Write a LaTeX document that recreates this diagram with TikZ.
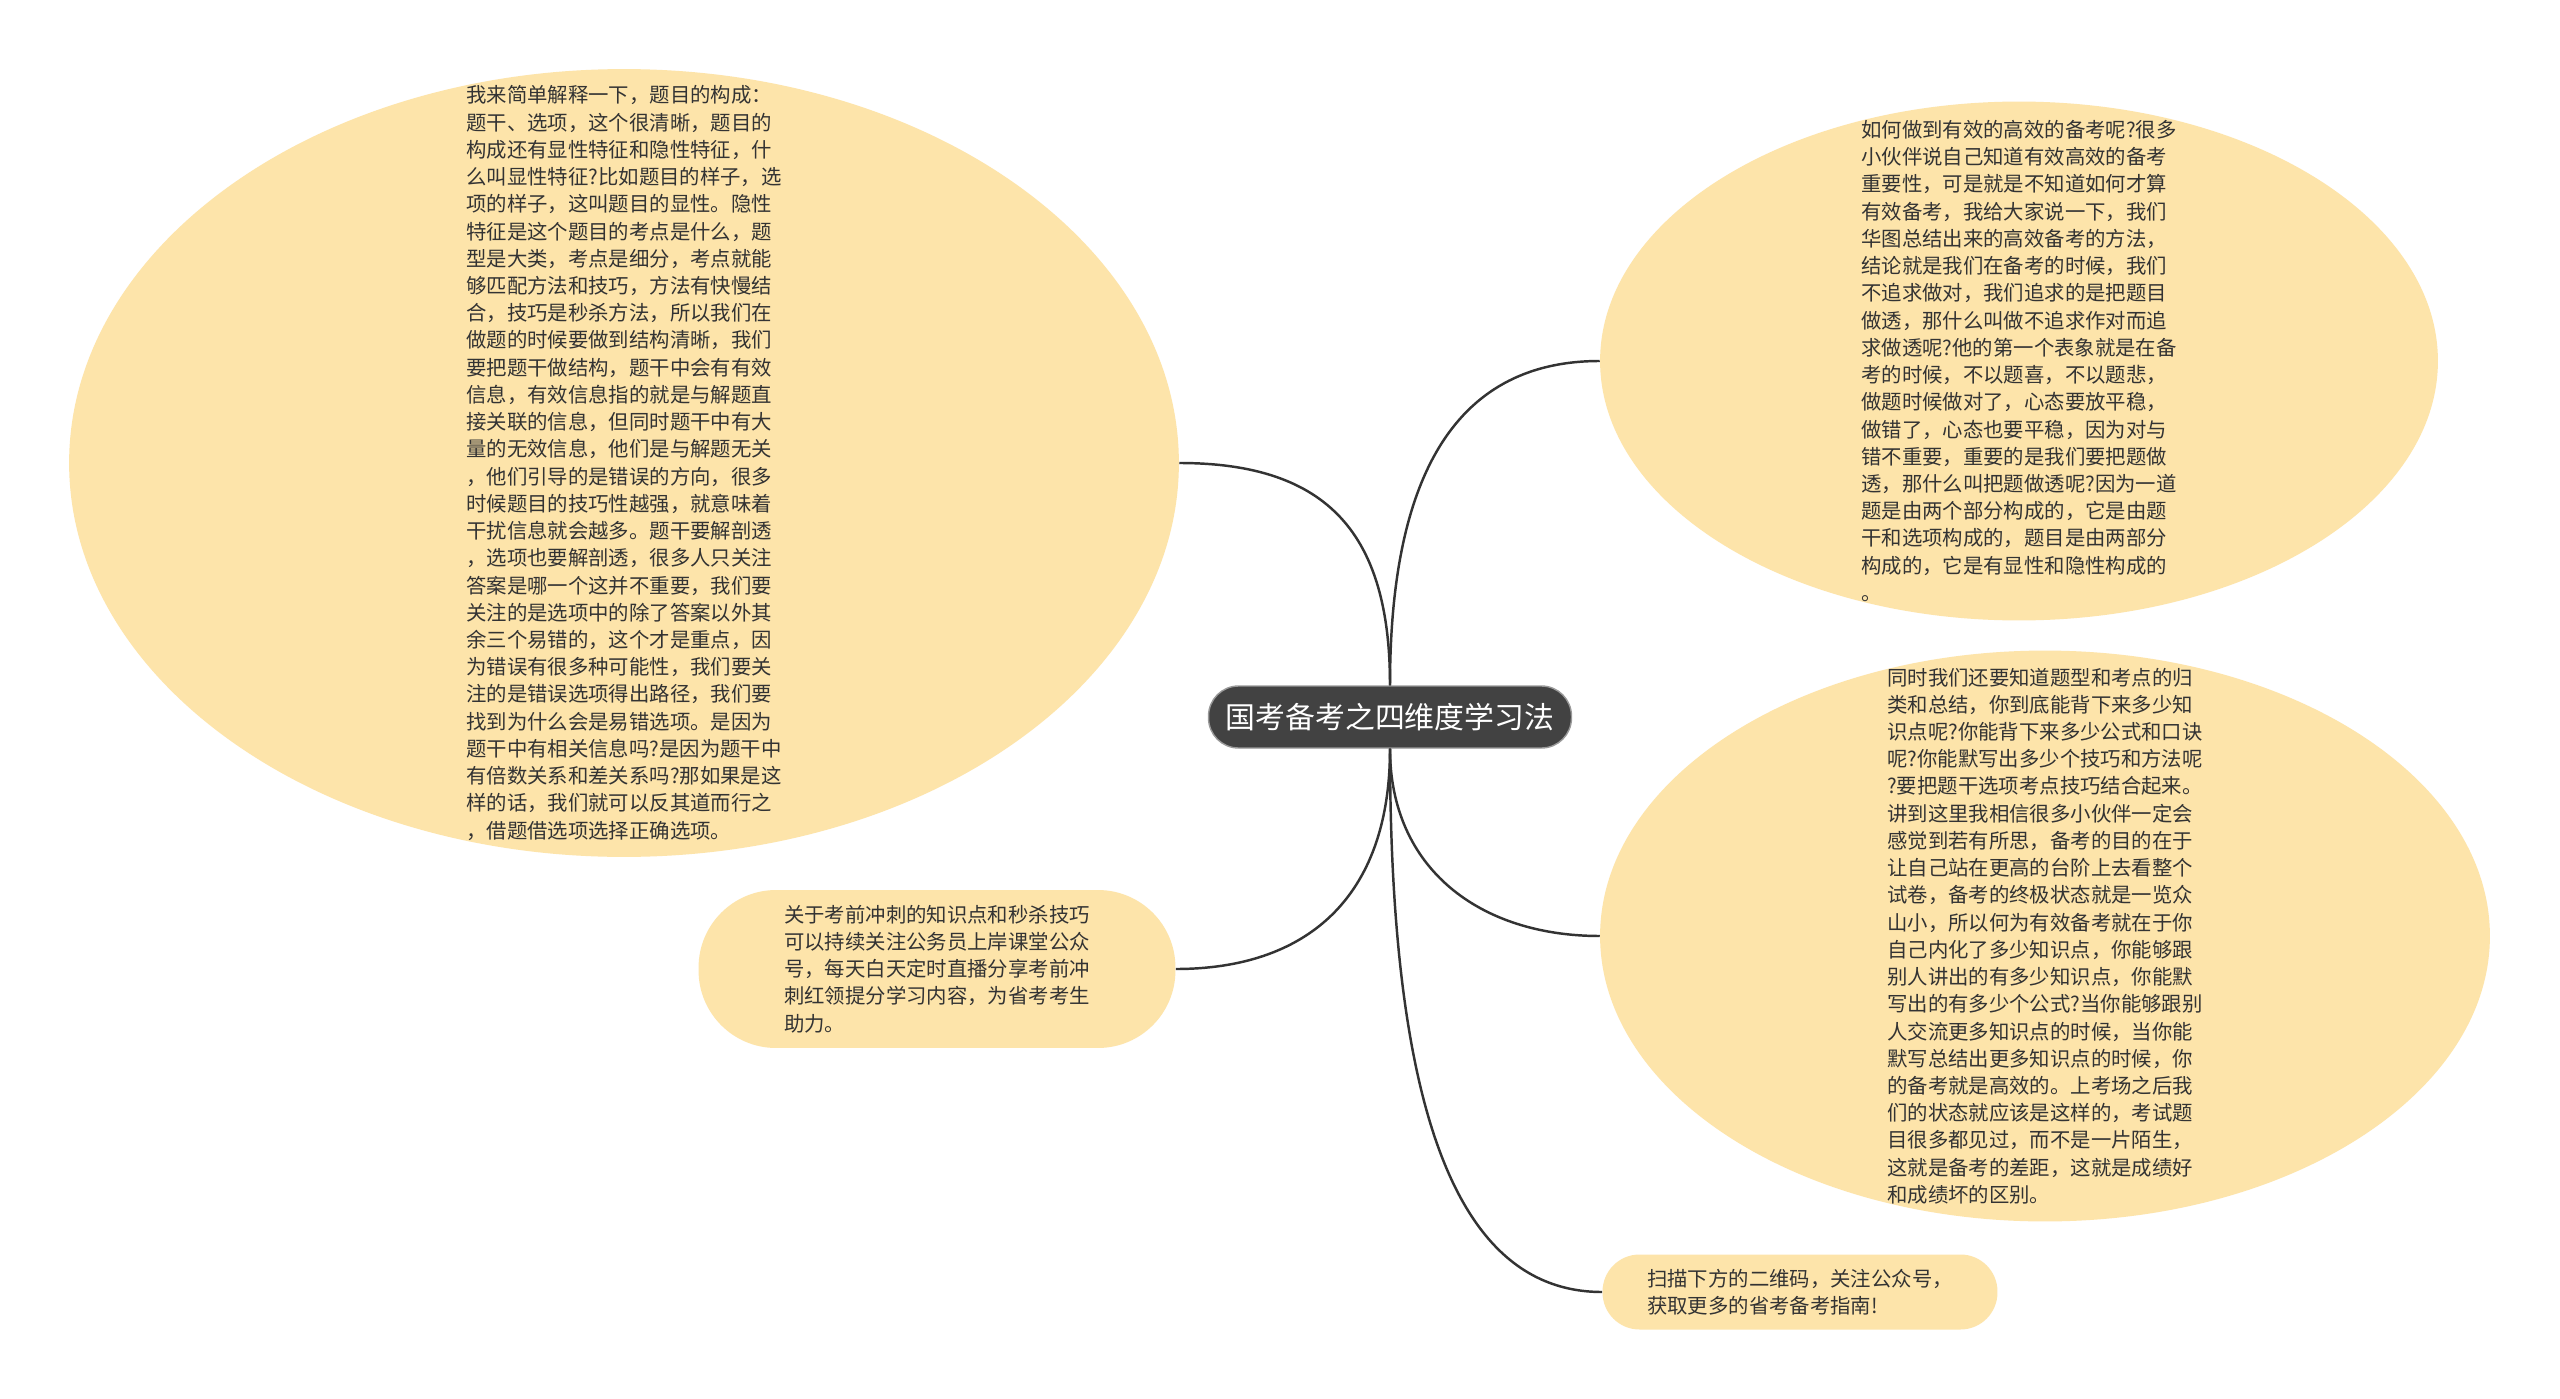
\documentclass[tikz,border=0pt]{standalone}
\usepackage{fontspec}
\newfontfamily\cjk{Noto Sans CJK SC}
\usetikzlibrary{shapes}
\definecolor{petal}{RGB}{253,228,170}
\definecolor{ink}{RGB}{51,51,51}
\definecolor{rootgray}{RGB}{66,66,66}
\tikzset{
  bubble/.style={ellipse,fill=petal,inner sep=0pt},
  txt/.style={align=left,inner sep=0pt,text=ink,font=\cjk\fontsize{11.6pt}{15.5pt}\selectfont},
  pill/.style={rectangle,fill=petal,txt},
  root/.style={rectangle,fill=rootgray,draw=gray!80,line width=0.8pt,rounded corners=0.6cm,
    minimum width=7.26cm,minimum height=1.24cm,text=white,font=\cjk\fontsize{17pt}{20pt}\selectfont},
  link/.style={draw=ink,line width=1.4pt},
}
\begin{document}
\begin{tikzpicture}[x=0.02cm,y=-0.02cm]
\useasboundingbox (0,0) rectangle (2560,1399);
\fill[white] (0,0) rectangle (2560,1399);

\node[bubble,minimum width=22.2cm,minimum height=15.76cm] (left) at (624,463) {};
\node[txt] (lefttext) at (left) {我来简单解释一下，题目的构成：\\
题干、选项，这个很清晰，题目的\\
构成还有显性特征和隐性特征，什\\
么叫显性特征?比如题目的样子，选\\
项的样子，这叫题目的显性。隐性\\
特征是这个题目的考点是什么，题\\
型是大类，考点是细分，考点就能\\
够匹配方法和技巧，方法有快慢结\\
合，技巧是秒杀方法，所以我们在\\
做题的时候要做到结构清晰，我们\\
要把题干做结构，题干中会有有效\\
信息，有效信息指的就是与解题直\\
接关联的信息，但同时题干中有大\\
量的无效信息，他们是与解题无关\\
，他们引导的是错误的方向，很多\\
时候题目的技巧性越强，就意味着\\
干扰信息就会越多。题干要解剖透\\
，选项也要解剖透，很多人只关注\\
答案是哪一个这并不重要，我们要\\
关注的是选项中的除了答案以外其\\
余三个易错的，这个才是重点，因\\
为错误有很多种可能性，我们要关\\
注的是错误选项得出路径，我们要\\
找到为什么会是易错选项。是因为\\
题干中有相关信息吗?是因为题干中\\
有倍数关系和差关系吗?那如果是这\\
样的话，我们就可以反其道而行之\\
，借题借选项选择正确选项。};

\node[pill,rounded corners=1.55cm,minimum width=9.54cm,minimum height=3.16cm] (note) at (937,969) {关于考前冲刺的知识点和秒杀技巧\\
可以持续关注公务员上岸课堂公众\\
号，每天白天定时直播分享考前冲\\
刺红领提分学习内容，为省考考生\\
助力。};

\node[bubble,minimum width=16.76cm,minimum height=10.38cm] (rtop) at (2019,361) {};
\node[txt] (rtoptext) at (rtop) {如何做到有效的高效的备考呢?很多\\
小伙伴说自己知道有效高效的备考\\
重要性，可是就是不知道如何才算\\
有效备考，我给大家说一下，我们\\
华图总结出来的高效备考的方法，\\
结论就是我们在备考的时候，我们\\
不追求做对，我们追求的是把题目\\
做透，那什么叫做不追求作对而追\\
求做透呢?他的第一个表象就是在备\\
考的时候，不以题喜，不以题悲，\\
做题时候做对了，心态要放平稳，\\
做错了，心态也要平稳，因为对与\\
错不重要，重要的是我们要把题做\\
透，那什么叫把题做透呢?因为一道\\
题是由两个部分构成的，它是由题\\
干和选项构成的，题目是由两部分\\
构成的，它是有显性和隐性构成的\\
。};

\node[bubble,minimum width=17.8cm,minimum height=11.42cm] (rmid) at (2045,936) {};
\node[txt] (rmidtext) at (rmid) {同时我们还要知道题型和考点的归\\
类和总结，你到底能背下来多少知\\
识点呢?你能背下来多少公式和口诀\\
呢?你能默写出多少个技巧和方法呢\\
?要把题干选项考点技巧结合起来。\\
讲到这里我相信很多小伙伴一定会\\
感觉到若有所思，备考的目的在于\\
让自己站在更高的台阶上去看整个\\
试卷，备考的终极状态就是一览众\\
山小，所以何为有效备考就在于你\\
自己内化了多少知识点，你能够跟\\
别人讲出的有多少知识点，你能默\\
写出的有多少个公式?当你能够跟别\\
人交流更多知识点的时候，当你能\\
默写总结出更多知识点的时候，你\\
的备考就是高效的。上考场之后我\\
们的状态就应该是这样的，考试题\\
目很多都见过，而不是一片陌生，\\
这就是备考的差距，这就是成绩好\\
和成绩坏的区别。};

\node[pill,rounded corners=0.74cm,minimum width=7.9cm,minimum height=1.5cm] (rbot) at (1800,1292) {扫描下方的二维码，关注公众号，\\
获取更多的省考备考指南!};

\node[root] (root) at (1390,717) {国考备考之四维度学习法};

\draw[link] (root.north) .. controls +(0,-150) and +(150,0) .. (left.east);
\draw[link] (root.north) .. controls +(0,-200) and +(-150,0) .. (rtop.west);
\draw[link] (root.south) .. controls +(0,120) and +(-120,0) .. (rmid.west);
\draw[link] (root.south) .. controls +(0,350) and +(-150,0) .. (rbot.west);
\draw[link] (root.south) .. controls +(0,150) and +(130,0) .. (note.east);
\end{tikzpicture}
\end{document}
